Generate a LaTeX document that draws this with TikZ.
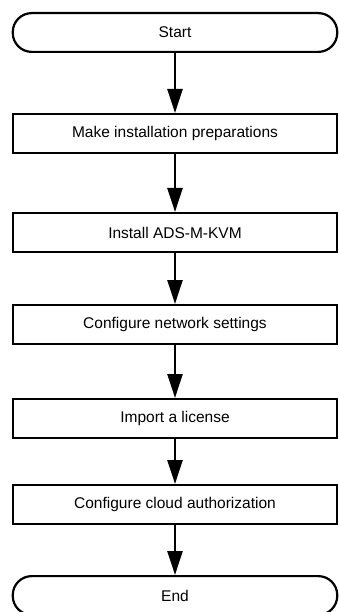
\documentclass[tikz,border=0pt]{standalone}
\usepackage{fontspec}
\setmainfont{Liberation Sans}
\usetikzlibrary{arrows.meta,positioning}
\tikzstyle{terminal} = [rectangle, draw, rounded corners=19pt, line width=2.2pt, minimum width=324.5pt, minimum height=38.8pt, text centered, font=\fontsize{15.5}{18}\selectfont]
\tikzstyle{block} = [rectangle, draw, line width=2.2pt, minimum width=323.8pt, minimum height=38.8pt, text centered, font=\fontsize{15.5}{18}\selectfont]
\tikzstyle{flow} = [draw, line width=2.5pt, -{Triangle[length=24pt,width=15pt]}]

\begin{document}
\begin{tikzpicture}[x=1pt,y=1pt]
    \useasboundingbox (0,0) rectangle (339,-612);
    \node [terminal] (start) at (175,-32.5) {Start};
    \node [block, below=60pt of start] (prep) {Make installation preparations};
    \node [block, below=58pt of prep] (install) {Install ADS-M-KVM};
    \node [block, below=51pt of install] (netcfg) {Configure network settings};
    \node [block, below=53pt of netcfg] (license) {Import a license};
    \node [block, below=45pt of license] (cloudauth) {Configure cloud authorization};
    \node [terminal, below=50pt of cloudauth] (stop) {End};

     \draw[flow](start) -- (prep);
     \draw[flow](prep) -- (install);
     \draw[flow](install) -- (netcfg);
     \draw[flow](netcfg) -- (license);
     \draw[flow](license) -- (cloudauth);
     \draw[flow](cloudauth) -- (stop);
\end{tikzpicture}
\end{document}
